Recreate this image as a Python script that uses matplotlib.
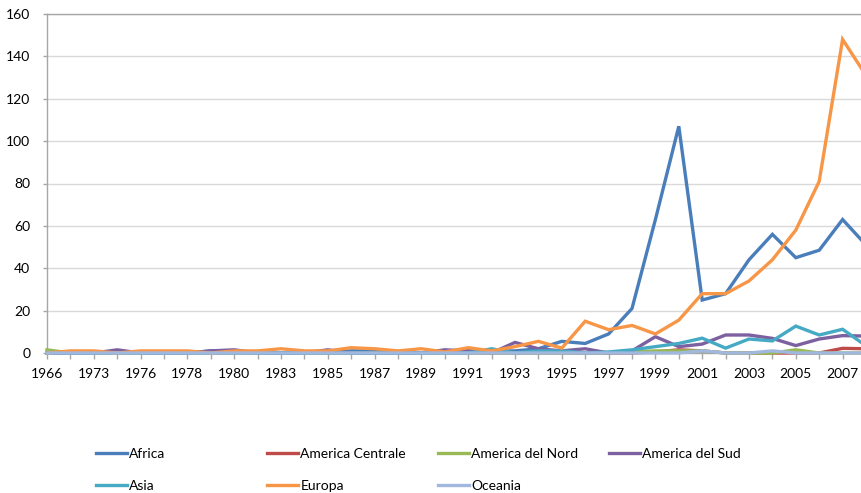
import matplotlib.pyplot as plt
from matplotlib.lines import Line2D

# categories (only every second label is shown on the axis)
years = ["1966", "1970", "1973", "1974", "1976", "1977", "1978", "1979", "1980", "1982",
         "1983", "1984", "1985", "1986", "1987", "1988", "1989", "1990", "1991", "1992",
         "1993", "1994", "1995", "1996", "1997", "1998", "1999", "2000", "2001", "2002",
         "2003", "2004", "2005", "2006", "2007", "2008"]

africa = [0, 0, 0, 0, 0, 0, 0, 1, 1, 0, 0, 0, 0, 1, 1, 0, 0, 0, 1, 1,
          1, 2, 5.5, 4.5, 9, 21, 63, 107, 25, 28, 44, 56, 45, 48.5, 63, 51]
america_centrale = [0, 0, 0, 0, 0, 0, 0, 0, 0, 0, 0, 0, 0, 0, 0, 0, 0, 0, 0, 0,
                    0, 0, 0, 0, 0, 0, 0.5, 1.5, 1, 0, 0, 0, 0, 0, 2.2, 2]
america_nord = [1.5, 0, 0, 0, 0, 0, 0, 0, 0, 0, 0, 0, 0, 0, 0, 0, 0, 0, 0, 0,
                0, 0, 0, 0, 0, 0.5, 1, 1, 1, 0, 0, 0, 1.5, 0, 0, 0]
america_sud = [0, 0, 0, 1.5, 0, 0, 0, 1, 1.5, 0, 0, 0, 1.5, 0, 0, 0, 0, 1.5, 1, 0,
               5, 2, 1, 2, 0, 1, 7.7, 3, 4.2, 8.5, 8.5, 6.9, 3.5, 6.6, 8.2, 8]
asia = [0, 0, 0, 0, 0, 0, 0, 0, 0, 0, 0, 0, 0, 0, 0, 0, 0, 0, 0, 2,
        0, 1, 1, 0, 0.5, 1.5, 3, 4.5, 7, 2.3, 6.6, 5.7, 12.7, 8.5, 11.2, 3.4]
europa = [0, 1, 1, 0, 1, 1, 1, 0, 1, 1, 2, 1, 1, 2.5, 2, 1, 2, 0.5, 2.5, 1,
          3, 5.5, 2.3, 15, 11, 13, 9, 15.5, 28, 28, 34, 44, 58, 81, 148, 131]
oceania = [0, 0, 0, 0, 0, 0, 0, 0, 0, 0, 0, 0, 0, 0, 0, 0, 0, 0, 0, 0,
           0, 0, 0, 0, 0, 0, 0, 0, 1, 0, 0, 1, 0, 0, 0, 0]

series = [
    ("Africa", africa, "#4A7EBB"),
    ("America Centrale", america_centrale, "#BE4B48"),
    ("America del Nord", america_nord, "#98B954"),
    ("America del Sud", america_sud, "#7D60A0"),
    ("Asia", asia, "#46AAC5"),
    ("Europa", europa, "#F79646"),
    ("Oceania", oceania, "#A1B8DE"),
]

plt.rcParams["font.family"] = ["Lato", "DejaVu Sans"]

W, H = 862, 493
fig = plt.figure(figsize=(W / 100, H / 100), dpi=100)
# plot area runs past the right edge, like the cropped original
x0, x1, y0, y1 = 47, 866, 353, 14
ax = fig.add_axes([x0 / W, 1 - y0 / H, (x1 - x0) / W, (y0 - y1) / H])

x = list(range(len(years)))
for name, vals, col in series:
    ax.plot(x, vals, color=col, lw=2.4, solid_joinstyle="miter", clip_on=False, zorder=3)

ax.set_xlim(0, len(years) - 1)
ax.set_ylim(0, 160)
ax.set_yticks(range(0, 161, 20))
ax.set_xticks(x)
ax.set_xticklabels([y if i % 2 == 0 else "" for i, y in enumerate(years)])

ax.grid(axis="y", color="#D9D9D9", lw=1)
ax.set_axisbelow(True)
for s in ["left", "bottom", "top"]:
    ax.spines[s].set_color("#A6A6A6")
    ax.spines[s].set_linewidth(1)
ax.spines["right"].set_visible(False)

ax.tick_params(axis="y", length=3, width=1, color="#A6A6A6", pad=9, labelsize=10)
ax.tick_params(axis="x", length=4, width=1, color="#A6A6A6", pad=7, labelsize=10)

# legend: four fixed-width columns, two rows
col_x = [96, 267, 438, 609]
row_y = [454, 486]
for i, (name, vals, col) in enumerate(series):
    cx = col_x[i % 4]
    ry = row_y[i // 4]
    fig.legend(handles=[Line2D([], [], color=col, lw=2.4)], labels=[name],
               loc="center left", bbox_to_anchor=(cx / W, 1 - ry / H),
               frameon=False, fontsize=10, handlelength=2.2, handletextpad=0.2,
               borderpad=0, borderaxespad=0)

fig.savefig("out.png", dpi=100)
